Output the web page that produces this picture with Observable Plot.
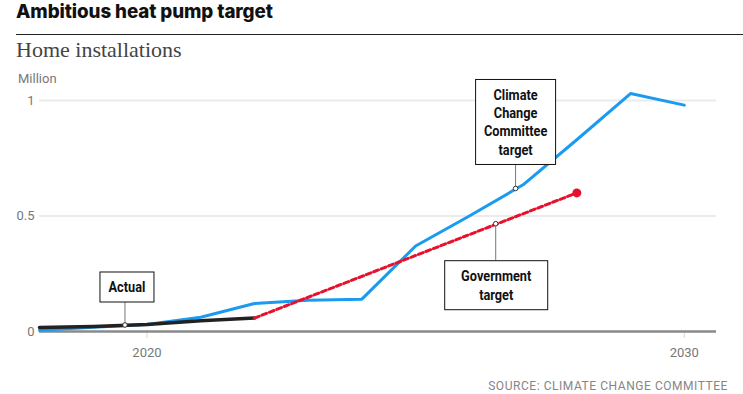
<!DOCTYPE html>
<html>
<head>
<meta charset="utf-8">
<script src="https://cdn.jsdelivr.net/npm/d3@7"></script>
<script src="https://cdn.jsdelivr.net/npm/@observablehq/plot@0.6"></script>
<style>
  html, body { margin: 0; padding: 0; background: #fff; }
  #wrap { position: relative; width: 743px; height: 394px; overflow: hidden; }
  .title { position: absolute; left: 16px; top: 1px; font-family: Inter, "Noto Sans", sans-serif; font-weight: 800; font-size: 18.8px; line-height: 22px; color: #111; letter-spacing: -0.1px; }
  .rule { position: absolute; left: 16px; right: 0; top: 34px; height: 1px; background: #222; }
  .sub { position: absolute; left: 16px; top: 37px; font-family: "Liberation Serif", "DejaVu Serif", serif; font-size: 22px; line-height: 26px; color: #444; }
  .unit { position: absolute; left: 18px; top: 71px; font-family: Roboto, sans-serif; font-size: 13px; line-height: 16px; color: #777; }
  #chart { position: absolute; left: 0; top: 64px; }
  .source { position: absolute; right: 15px; top: 379px; font-family: Roboto, sans-serif; font-size: 12px; line-height: 14px; letter-spacing: 0.55px; color: #858585; }
</style>
</head>
<body>
<div id="wrap">
  <div class="title">Ambitious heat pump target</div>
  <div class="rule"></div>
  <div class="sub">Home installations</div>
  <div class="unit">Million</div>
  <div id="chart"></div>
  <div class="source">SOURCE: CLIMATE CHANGE COMMITTEE</div>
</div>
<script>
// ---- data ----
const cccYears = [2018, 2019, 2020, 2021, 2022, 2023, 2024, 2025, 2026, 2027, 2028, 2029, 2030];
const cccValues = [0.005, 0.018, 0.03, 0.062, 0.121, 0.135, 0.14, 0.37, 0.50, 0.635, 0.83, 1.03, 0.98];

const actualYears = [2018, 2019, 2020, 2021, 2022];
const actualValues = [0.017, 0.022, 0.03, 0.047, 0.058];

const govYears = [2022, 2028];
const govValues = [0.058, 0.60];

const xTicks = [2020, 2030];
const yTicks = [0, 0.5, 1];

const annotationLabels = [["Actual"], ["Climate", "Change", "Committee", "target"], ["Government", "target"]];
const annotationYears = [2019.6, 2026.87, 2026.5];
const annotationValues = [0.026, 0.617, 0.4645];

// ---- build tables ----
const ccc = cccYears.map((year, i) => ({year, value: cccValues[i]}));
const actual = actualYears.map((year, i) => ({year, value: actualValues[i]}));
const gov = govYears.map((year, i) => ({year, value: govValues[i]}));
const notes = annotationLabels.map((lines, i) => ({lines, year: annotationYears[i], value: annotationValues[i]}));

// box layout (pixels relative to anchor point) – styling only
const boxLayout = [
  {w: 54, top: -53, bottom: -23, cx: 2},
  {w: 80, top: -109, bottom: -24, cx: 0},
  {w: 103, top: 37, bottom: 86, cx: 0.5}
];

const BLUE = "#1a9bf0", RED = "#e8112d", BLACK = "#222";
const FONT = "Roboto, sans-serif";

function annotationMark(index, scales) {
  const sx = typeof scales.x === "function" ? scales.x : scales.x.apply;
  const sy = typeof scales.y === "function" ? scales.y : scales.y.apply;
  const g = d3.create("svg:g").attr("aria-label", "annotations");
  notes.forEach((d, i) => {
    const L = boxLayout[i];
    const px = sx(d.year), py = sy(d.value);
    const bx = px + L.cx - L.w / 2;
    const by = py + L.top;
    const bh = L.bottom - L.top;
    const lineY1 = L.top < 0 ? py + L.bottom : py + L.top;
    g.append("line")
      .attr("x1", px).attr("x2", px)
      .attr("y1", lineY1).attr("y2", py)
      .attr("stroke", "#777").attr("stroke-width", 1);
    g.append("rect")
      .attr("x", bx).attr("y", by).attr("width", L.w).attr("height", bh)
      .attr("fill", "#fff").attr("stroke", "#111").attr("stroke-width", 1);
    const cy = by + bh / 2;
    const n = d.lines.length;
    d.lines.forEach((t, j) => {
      g.append("g")
        .attr("transform", `translate(${px + L.cx},${cy + (j - (n - 1) / 2) * 18.3}) scale(0.88,1)`)
        .append("text")
        .attr("dy", "0.36em")
        .attr("text-anchor", "middle")
        .attr("font-family", FONT)
        .attr("font-weight", "bold")
        .attr("font-size", 14.5)
        .attr("fill", "#111")
        .text(t);
    });
    g.append("circle")
      .attr("cx", px).attr("cy", py).attr("r", 2.3)
      .attr("fill", "#fff").attr("stroke", "#333").attr("stroke-width", 1);
  });
  return g.node();
}

const chart = Plot.plot({
  width: 743,
  height: 300,
  marginLeft: 39,
  marginRight: 27,
  marginTop: 36,
  marginBottom: 33,
  style: {fontFamily: FONT, fontSize: "13px", color: "#777", background: "transparent", overflow: "visible"},
  x: {domain: [2018, 2030.6], ticks: xTicks, tickFormat: d => String(d), tickSize: 7, tickPadding: 9, label: null},
  y: {domain: [0, 1], ticks: yTicks, tickFormat: d => String(d), tickSize: 0, tickPadding: 5, label: null},
  marks: [
    Plot.ruleY(yTicks.filter(d => d > 0), {stroke: "#ebebeb", strokeWidth: 1.8}),
    Plot.ruleY([0], {stroke: "#8a8a8a", strokeWidth: 2.5}),
    Plot.line(ccc, {x: "year", y: "value", stroke: BLUE, strokeWidth: 3}),
    Plot.line(actual, {x: "year", y: "value", stroke: BLACK, strokeWidth: 3.5}),
    Plot.line(gov, {x: "year", y: "value", stroke: RED, strokeWidth: 3, strokeDasharray: "5,3"}),
    Plot.dot(gov.slice(-1), {x: "year", y: "value", r: 4.5, fill: RED, stroke: "none"}),
    annotationMark
  ]
});
document.getElementById("chart").appendChild(chart);
d3.select(chart).selectAll("g[aria-label='x-axis tick'] path, g[aria-label='x-axis'] .tick line").attr("stroke", "#d8d8d8");
d3.select(chart).selectAll("g[aria-label='x-axis'] .domain, g[aria-label='y-axis'] .domain").remove();
</script>
</body>
</html>
